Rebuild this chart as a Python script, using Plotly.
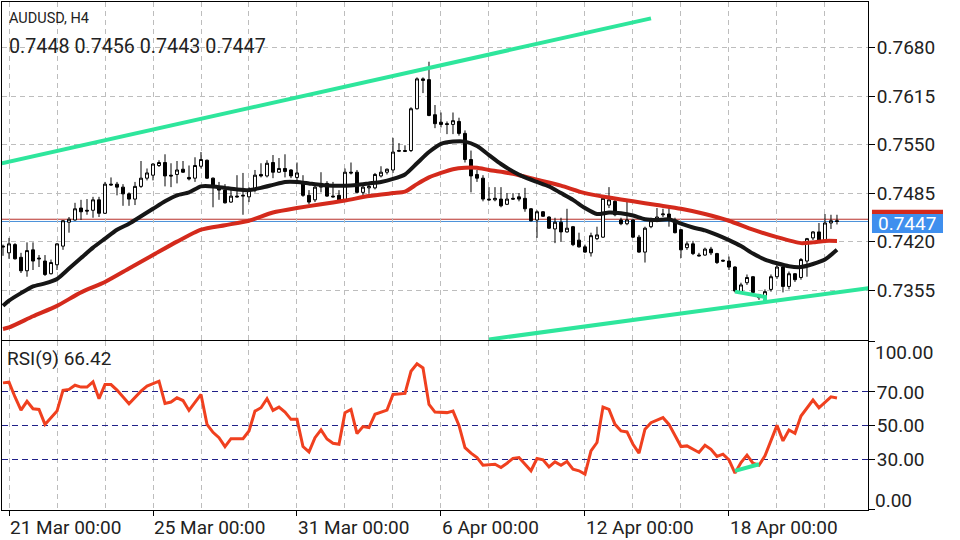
import plotly.graph_objects as go

# ---------------- data ----------------
symbol = "AUDUSD, H4"
tick_bars = [0, 24, 48, 72, 96, 120]
tick_labels = ["21 Mar 00:00", "25 Mar 00:00", "31 Mar 00:00", "6 Apr 00:00", "12 Apr 00:00", "18 Apr 00:00"]
grid_bars = list(range(0, 144, 8))

bars = list(range(-1, 139))
opens = [0.7414, 0.7405, 0.7416, 0.7399, 0.7381, 0.7409, 0.7398, 0.7394, 0.7377, 0.7389,
         0.7414, 0.7446, 0.7449, 0.7465, 0.7462, 0.7462, 0.7476, 0.7458, 0.7497, 0.7497,
         0.7493, 0.7484, 0.7477, 0.7494, 0.7505, 0.7509, 0.7522, 0.7526, 0.7509, 0.7510,
         0.7517, 0.7506, 0.7505, 0.7521, 0.7529, 0.7505, 0.7493, 0.7489, 0.7473, 0.7481,
         0.7481, 0.7480, 0.7489, 0.7510, 0.7508, 0.7526, 0.7513, 0.7518, 0.7516, 0.7506,
         0.7498, 0.7482, 0.7476, 0.7493, 0.7498, 0.7481, 0.7482, 0.7476, 0.7513, 0.7513,
         0.7486, 0.7492, 0.7492, 0.7508, 0.7513, 0.7516, 0.7541, 0.7542, 0.7542, 0.7598,
         0.7638, 0.7637, 0.7590, 0.7580, 0.7578, 0.7577, 0.7581, 0.7565, 0.7530, 0.7510,
         0.7505, 0.7477, 0.7476, 0.7477, 0.7470, 0.7478, 0.7480, 0.7478, 0.7464, 0.7449,
         0.7460, 0.7453, 0.7437, 0.7446, 0.7433, 0.7440, 0.7422, 0.7413, 0.7405, 0.7424,
         0.7426, 0.7469, 0.7474, 0.7449, 0.7444, 0.7449, 0.7426, 0.7406, 0.7440, 0.7449,
         0.7456, 0.7457, 0.7449, 0.7436, 0.7412, 0.7417, 0.7402, 0.7402, 0.7410, 0.7404,
         0.7395, 0.7394, 0.7386, 0.7353, 0.7365, 0.7373, 0.7349, 0.7345, 0.7356, 0.7373,
         0.7386, 0.7360, 0.7377, 0.7372, 0.7394, 0.7425, 0.7433, 0.7421, 0.7445, 0.7448]
highs = [0.7416, 0.7425, 0.7418, 0.7405, 0.7419, 0.7419, 0.7402, 0.7402, 0.7396, 0.7418,
         0.7449, 0.7453, 0.7472, 0.7476, 0.7477, 0.7480, 0.7480, 0.7500, 0.7506, 0.7500,
         0.7497, 0.7486, 0.7500, 0.7528, 0.7518, 0.7525, 0.7529, 0.7537, 0.7525, 0.7528,
         0.7528, 0.7522, 0.7533, 0.7540, 0.7530, 0.7506, 0.7500, 0.7497, 0.7492, 0.7509,
         0.7512, 0.7493, 0.7516, 0.7525, 0.7529, 0.7536, 0.7532, 0.7537, 0.7517, 0.7526,
         0.7509, 0.7489, 0.7496, 0.7513, 0.7501, 0.7500, 0.7489, 0.7518, 0.7526, 0.7516,
         0.7498, 0.7497, 0.7512, 0.7521, 0.7518, 0.7559, 0.7552, 0.7549, 0.7600, 0.7640,
         0.7640, 0.7661, 0.7603, 0.7593, 0.7581, 0.7593, 0.7586, 0.7569, 0.7542, 0.7516,
         0.7509, 0.7493, 0.7493, 0.7493, 0.7485, 0.7485, 0.7485, 0.7492, 0.7465, 0.7462,
         0.7461, 0.7454, 0.7452, 0.7452, 0.7464, 0.7441, 0.7432, 0.7416, 0.7432, 0.7440,
         0.7480, 0.7493, 0.7478, 0.7452, 0.7476, 0.7450, 0.7429, 0.7440, 0.7452, 0.7465,
         0.7464, 0.7465, 0.7452, 0.7437, 0.7420, 0.7421, 0.7405, 0.7412, 0.7413, 0.7405,
         0.7396, 0.7400, 0.7387, 0.7365, 0.7376, 0.7374, 0.7350, 0.7356, 0.7376, 0.7392,
         0.7388, 0.7380, 0.7378, 0.7398, 0.7425, 0.7434, 0.7445, 0.7457, 0.7456, 0.7456]
lows = [0.7401, 0.7397, 0.7396, 0.7378, 0.7373, 0.7382, 0.7386, 0.7374, 0.7376, 0.7382,
        0.7409, 0.7432, 0.7448, 0.7449, 0.7456, 0.7452, 0.7453, 0.7457, 0.7495, 0.7482,
        0.7468, 0.7468, 0.7469, 0.7492, 0.7502, 0.7502, 0.7520, 0.7494, 0.7493, 0.7498,
        0.7512, 0.7502, 0.7500, 0.7518, 0.7504, 0.7466, 0.7476, 0.7471, 0.7472, 0.7479,
        0.7456, 0.7473, 0.7486, 0.7506, 0.7506, 0.7505, 0.7512, 0.7506, 0.7505, 0.7502,
        0.7480, 0.7470, 0.7473, 0.7486, 0.7480, 0.7479, 0.7473, 0.7474, 0.7510, 0.7485,
        0.7481, 0.7484, 0.7490, 0.7506, 0.7510, 0.7512, 0.7540, 0.7540, 0.7540, 0.7597,
        0.7619, 0.7588, 0.7572, 0.7573, 0.7564, 0.7564, 0.7562, 0.7526, 0.7486, 0.7500,
        0.7474, 0.7475, 0.7474, 0.7466, 0.7469, 0.7476, 0.7474, 0.7460, 0.7447, 0.7425,
        0.7453, 0.7437, 0.7418, 0.7420, 0.7432, 0.7414, 0.7412, 0.7405, 0.7400, 0.7422,
        0.7425, 0.7465, 0.7454, 0.7442, 0.7442, 0.7425, 0.7405, 0.7392, 0.7438, 0.7446,
        0.7453, 0.7440, 0.7431, 0.7398, 0.7409, 0.7402, 0.7400, 0.7401, 0.7402, 0.7390,
        0.7393, 0.7382, 0.7352, 0.7352, 0.7362, 0.7350, 0.7342, 0.7344, 0.7353, 0.7370,
        0.7352, 0.7356, 0.7366, 0.7369, 0.7373, 0.7422, 0.7420, 0.7418, 0.7437, 0.7443]
closes = [0.7413, 0.7417, 0.7397, 0.7381, 0.7408, 0.7394, 0.7397, 0.7376, 0.7392, 0.7417,
          0.7448, 0.7450, 0.7464, 0.7460, 0.7461, 0.7476, 0.7458, 0.7497, 0.7496, 0.7493,
          0.7484, 0.7477, 0.7494, 0.7505, 0.7512, 0.7524, 0.7526, 0.7508, 0.7508, 0.7516,
          0.7513, 0.7504, 0.7522, 0.7530, 0.7505, 0.7496, 0.7489, 0.7472, 0.7481, 0.7480,
          0.7482, 0.7489, 0.7509, 0.7508, 0.7525, 0.7513, 0.7518, 0.7514, 0.7508, 0.7512,
          0.7482, 0.7473, 0.7493, 0.7498, 0.7481, 0.7480, 0.7476, 0.7513, 0.7512, 0.7486,
          0.7493, 0.7494, 0.7510, 0.7513, 0.7517, 0.7540, 0.7542, 0.7541, 0.7598, 0.7638,
          0.7636, 0.7589, 0.7578, 0.7577, 0.7577, 0.7582, 0.7565, 0.7530, 0.7508, 0.7505,
          0.7477, 0.7476, 0.7478, 0.7468, 0.7477, 0.7477, 0.7477, 0.7464, 0.7448, 0.7460,
          0.7454, 0.7438, 0.7446, 0.7433, 0.7438, 0.7416, 0.7413, 0.7406, 0.7428, 0.7429,
          0.7478, 0.7476, 0.7456, 0.7444, 0.7449, 0.7426, 0.7406, 0.7438, 0.7448, 0.7453,
          0.7457, 0.7450, 0.7432, 0.7409, 0.7417, 0.7404, 0.7401, 0.7410, 0.7405, 0.7392,
          0.7394, 0.7386, 0.7354, 0.7362, 0.7372, 0.7352, 0.7345, 0.7353, 0.7373, 0.7386,
          0.7360, 0.7377, 0.7369, 0.7396, 0.7424, 0.7433, 0.7422, 0.7445, 0.7448, 0.7447]
ask_price = 0.7450

ma_fast_bars = [-1, 0, 2, 4, 6, 8, 10, 12, 14, 16, 18, 20, 22, 24, 26, 28, 30, 32, 34, 36, 38, 40,
                42, 44, 46, 48, 50, 52, 54, 56, 58, 60, 62, 64, 66, 68, 70, 72, 74, 76, 78, 80,
                82, 84, 86, 88, 90, 92, 94, 96, 98, 100, 102, 104, 106, 108, 110, 112, 114, 116,
                118, 120, 122, 124, 126, 128, 130, 132, 134, 136, 138]
ma_fast = [0.7334, 0.7341, 0.7351, 0.7360, 0.7364, 0.7370, 0.7384, 0.7398, 0.7412, 0.7424,
           0.7436, 0.7444, 0.7454, 0.7464, 0.7474, 0.7482, 0.7486, 0.7494, 0.7494, 0.7492,
           0.7490, 0.7489, 0.7492, 0.7496, 0.7500, 0.7500, 0.7498, 0.7496, 0.7495, 0.7495,
           0.7496, 0.7498, 0.7500, 0.7504, 0.7510, 0.7525, 0.7540, 0.7551, 0.7554, 0.7554,
           0.7548, 0.7536, 0.7524, 0.7514, 0.7506, 0.7500, 0.7494, 0.7485, 0.7476, 0.7465,
           0.7457, 0.7459, 0.7458, 0.7455, 0.7450, 0.7449, 0.7450, 0.7444, 0.7439, 0.7435,
           0.7429, 0.7422, 0.7414, 0.7404, 0.7396, 0.7391, 0.7387, 0.7386, 0.7390, 0.7396,
           0.7409]
ma_slow_bars = [-1, 0, 4, 8, 12, 16, 20, 24, 28, 32, 36, 40, 44, 48, 52, 56, 60, 64, 66, 68, 70,
                72, 74, 76, 78, 80, 84, 88, 92, 96, 100, 104, 108, 112, 116, 120, 124, 128, 132,
                134, 136, 138]
ma_slow = [0.7303, 0.7305, 0.7320, 0.7334, 0.7352, 0.7366, 0.7384, 0.7402, 0.7420, 0.7436,
           0.7442, 0.7448, 0.7459, 0.7465, 0.7470, 0.7475, 0.7481, 0.7485, 0.7487, 0.7497,
           0.7506, 0.7512, 0.7517, 0.7519, 0.7519, 0.7516, 0.7511, 0.7503, 0.7495, 0.7485,
           0.7479, 0.7474, 0.7469, 0.7464, 0.7457, 0.7448, 0.7436, 0.7426, 0.7418, 0.7419,
           0.7421, 0.7421]

upper_trend_bars = [-1.2, 107]
upper_trend = [0.7525, 0.7719]
lower_trend_bars = [80, 143.5]
lower_trend = [0.7289, 0.7358]
price_div_bars = [121, 126, 126]
price_div = [0.7353, 0.7346, 0.7339]

rsi_bars = [-1, 0, 1, 2, 3, 4, 5, 6, 8, 9, 10, 11, 12, 13, 14, 15, 16, 17, 18, 20, 22, 23, 25, 26,
            27, 28, 29, 30, 32, 33, 34, 35, 36, 37, 39, 40, 41, 42, 43, 44, 45, 46, 47, 48, 49,
            50, 51, 52, 53, 54, 55, 56, 57, 58, 59, 60, 61, 63, 64, 66, 67, 68, 69, 70, 71, 73,
            74, 75, 76, 77, 78, 79, 81, 82, 83, 84, 85, 87, 88, 89, 90, 91, 92, 93, 94, 95, 96,
            97, 98, 99, 100, 101, 102, 103, 104, 105, 106, 107, 109, 110, 112, 113, 115, 116,
            117, 118, 119, 120, 121, 122, 123, 124, 125, 126, 128, 129, 130, 131, 132, 134, 135,
            136, 137, 138]
rsi_vals = [75.4, 75.8, 67.0, 59.2, 64.4, 60.0, 59.6, 50.7, 58.6, 70.9, 71.5, 74.0, 72.9, 72.9,
            76.0, 66.0, 74.4, 74.4, 71.1, 63.0, 70.5, 73.5, 76.4, 63.2, 64.0, 66.5, 64.9, 59.0,
            68.5, 50.7, 46.0, 42.8, 37.5, 42.2, 42.2, 46.8, 58.6, 60.6, 66.0, 59.0, 61.0, 58.0,
            53.7, 53.7, 37.5, 34.3, 42.8, 47.4, 42.0, 39.5, 38.9, 57.7, 59.6, 45.2, 49.4, 48.8,
            56.7, 59.2, 68.5, 69.1, 82.3, 86.7, 84.3, 62.6, 58.0, 57.7, 58.6, 50.1, 36.9, 33.6,
            31.0, 26.4, 27.0, 25.0, 27.6, 30.5, 31.0, 23.1, 30.4, 29.6, 25.4, 28.4, 26.4, 28.6,
            24.1, 23.1, 21.1, 34.9, 39.9, 61.0, 59.6, 50.7, 46.8, 46.2, 38.9, 33.6, 47.8, 51.7,
            54.7, 50.7, 37.5, 37.9, 34.0, 38.3, 35.9, 31.6, 33.0, 29.6, 21.7, 28.0, 32.4, 27.6,
            26.4, 32.0, 50.1, 40.9, 47.4, 45.4, 55.7, 65.2, 60.6, 64.0, 67.1, 66.42]
rsi_period = 9
rsi_levels = [30, 50, 70]
rsi_div_bars = [121, 125]
rsi_div = [23.0, 27.0]

price_ticks = [0.7355, 0.7420, 0.7485, 0.7550, 0.7615, 0.7680]

# ---------------- style ----------------
FONT = "Roboto"
TXT = "#222222"
GRID = "#bdbdbd"
GREEN = "#2ee69c"

fig = go.Figure()

fig.add_trace(go.Candlestick(
    x=bars, open=opens, high=highs, low=lows, close=closes,
    increasing=dict(line=dict(color="#000000", width=1), fillcolor="#ffffff"),
    decreasing=dict(line=dict(color="#000000", width=1), fillcolor="#000000"),
    whiskerwidth=0, hoverinfo="skip", showlegend=False, xaxis="x", yaxis="y"))

fig.add_trace(go.Scatter(x=ma_slow_bars, y=ma_slow, mode="lines",
                         line=dict(color="#d42a1c", width=4, shape="spline", smoothing=0.6),
                         hoverinfo="skip", showlegend=False, xaxis="x", yaxis="y"))
fig.add_trace(go.Scatter(x=ma_fast_bars, y=ma_fast, mode="lines",
                         line=dict(color="#161616", width=4, shape="spline", smoothing=0.6),
                         hoverinfo="skip", showlegend=False, xaxis="x", yaxis="y"))
for tx, ty in [(upper_trend_bars, upper_trend), (lower_trend_bars, lower_trend),
               (price_div_bars, price_div)]:
    fig.add_trace(go.Scatter(x=tx, y=ty, mode="lines", line=dict(color=GREEN, width=4),
                             hoverinfo="skip", showlegend=False, xaxis="x", yaxis="y"))

fig.add_trace(go.Scatter(x=rsi_bars, y=rsi_vals, mode="lines",
                         line=dict(color="#f0401f", width=3),
                         hoverinfo="skip", showlegend=False, xaxis="x2", yaxis="y2"))
fig.add_trace(go.Scatter(x=rsi_div_bars, y=rsi_div, mode="lines",
                         line=dict(color=GREEN, width=4),
                         hoverinfo="skip", showlegend=False, xaxis="x2", yaxis="y2"))

xr = [-1.1667, 143.17]
dash = "5px,4px"
xcommon = dict(range=xr, tickmode="array", tickvals=tick_bars, showgrid=True, gridcolor=GRID,
               griddash=dash, gridwidth=1, zeroline=False, showline=True, linecolor="#000000",
               linewidth=1, mirror=True, fixedrange=True,
               minor=dict(tickvals=grid_bars, showgrid=True, gridcolor=GRID, griddash=dash,
                          gridwidth=1, ticks=""))

bid = closes[-1]
ohlc_text = f"{opens[-1]:.4f} {highs[-1]:.4f} {lows[-1]:.4f} {closes[-1]:.4f}"

fig.update_layout(
    width=960, height=540, margin=dict(l=2, r=92, t=1, b=29),
    paper_bgcolor="#ffffff", plot_bgcolor="#ffffff", hovermode=False,
    font=dict(family=FONT, color=TXT, size=19),
    xaxis=dict(**xcommon, anchor="y", showticklabels=False, ticks="",
               rangeslider=dict(visible=False)),
    xaxis2=dict(**xcommon, anchor="y2", matches="x", ticktext=tick_labels, ticks="outside",
                ticklen=5, tickcolor="#000000", ticklabelposition="outside right",
                tickfont=dict(size=19, color=TXT, family=FONT)),
    yaxis=dict(domain=[0.3343, 1.0], range=[0.7288, 0.7741], side="right", anchor="x",
               tickmode="array", tickvals=price_ticks,
               ticktext=[f"{v:.4f}" for v in price_ticks], ticks="outside", ticklen=6,
               ticklabelstandoff=-2,
               tickcolor="#000000", showgrid=True, gridcolor=GRID, griddash=dash,
               zeroline=False, showline=True, linecolor="#000000", mirror=True,
               fixedrange=True, tickfont=dict(size=19, color=TXT, family=FONT)),
    yaxis2=dict(domain=[0.0, 0.3333], range=[-0.24, 100.5], side="right", anchor="x2",
                tickmode="array", tickvals=rsi_levels,
                ticktext=[f"{v:.2f}" for v in rsi_levels], ticks="outside", ticklen=6,
                ticklabelstandoff=-2,
                tickcolor="#000000", showgrid=True, gridcolor="#202088", griddash="6px,4px",
                zeroline=False, showline=True, linecolor="#000000", mirror=True,
                fixedrange=True, tickfont=dict(size=19, color=TXT, family=FONT),
                minor=dict(tickvals=[0, 100], ticks="outside", ticklen=6,
                           tickcolor="#000000", showgrid=False)),
    shapes=[
        dict(type="line", xref="x domain", yref="y", x0=0, x1=1, y0=ask_price, y1=ask_price,
             line=dict(color="#b8302a", width=1), layer="below"),
        dict(type="line", xref="x domain", yref="y", x0=0, x1=1, y0=bid, y1=bid,
             line=dict(color="#4a90d9", width=1), layer="below"),
        dict(type="rect", xref="paper", yref="y", ysizemode="pixel", yanchor=ask_price,
             x0=1.0046, x1=1.0866, y0=-4, y1=9.5, fillcolor="#d42a1c", line=dict(width=0)),
        dict(type="rect", xref="paper", yref="y", ysizemode="pixel", yanchor=bid,
             x0=1.0046, x1=1.0866, y0=-11.5, y1=7.5, fillcolor="#3f8fee", line=dict(width=0)),
    ],
    annotations=[
        dict(text=symbol, xref="paper", yref="paper", x=0.0058, y=0.9667, xanchor="left",
             yanchor="middle", showarrow=False, font=dict(size=14.5, color=TXT, family=FONT)),
        dict(text=ohlc_text, xref="paper", yref="paper", x=0.0058, y=0.9124, xanchor="left",
             yanchor="middle", showarrow=False, font=dict(size=19.7, color=TXT, family=FONT)),
        dict(text=f"RSI({rsi_period}) {rsi_vals[-1]:.2f}", xref="paper", yref="paper",
             x=0.0035, y=0.2975, xanchor="left", yanchor="middle", showarrow=False,
             font=dict(size=19, color=TXT, family=FONT)),
        dict(text="100.00", xref="paper", yref="y2", x=1.0, y=100, xanchor="left",
             yanchor="middle", xshift=5, yshift=-11, showarrow=False,
             font=dict(size=19, color=TXT, family=FONT)),
        dict(text="0.00", xref="paper", yref="y2", x=1.0, y=0, xanchor="left",
             yanchor="middle", xshift=5, yshift=9, showarrow=False,
             font=dict(size=19, color=TXT, family=FONT)),
        dict(text=f"{bid:.4f}", xref="paper", yref="y", x=1.0456, y=bid, xanchor="center",
             yanchor="middle", yshift=-2, showarrow=False,
             font=dict(size=19, color="#ffffff", family=FONT)),
    ],
)

fig.write_html("out.html", config={"displayModeBar": False},
               post_script="document.body.style.margin='0px';")
